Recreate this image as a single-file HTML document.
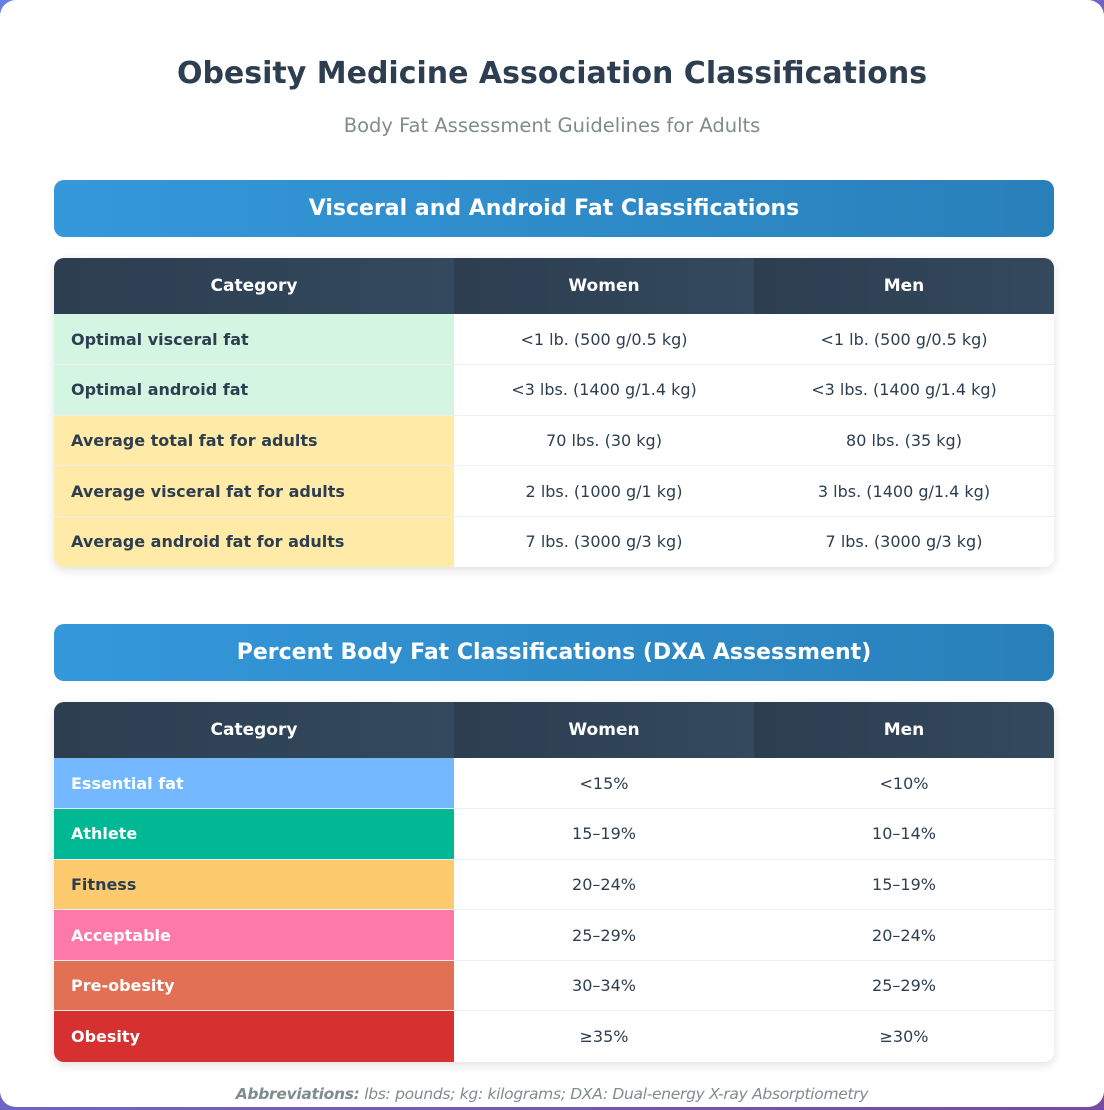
<!DOCTYPE html>
<html><head><meta charset="utf-8"><style>
*{margin:0;padding:0;box-sizing:border-box}
html,body{width:1104px;height:1110px;overflow:hidden}
body{background:linear-gradient(135deg,#667eea,#764ba2);font-family:"DejaVu Sans","Liberation Sans",sans-serif;color:#2c3e50}
.card{position:absolute;left:0;top:0;width:1104px;height:1107px;background:#fff;border-radius:16px}
h1{position:absolute;top:56px;left:0;width:1104px;text-align:center;font-size:30px;font-weight:bold;color:#2c3e50}
.sub{position:absolute;top:114px;left:0;width:1104px;text-align:center;font-size:19.5px;color:#7f8c8d}
.sec{position:absolute;left:54px;width:1000px;height:57px;border-radius:10px;background:linear-gradient(90deg,#3498db,#2980b9);color:#fff;font-weight:bold;font-size:22px;text-align:center;line-height:57px}
table{position:absolute;left:54px;width:1000px;border-collapse:collapse;border-radius:10px;overflow:hidden;box-shadow:0 3px 10px rgba(0,0,0,0.12)}
th{height:56px;color:#fff;font-size:17px;font-weight:bold;background:linear-gradient(90deg,#2c3e50,#34495e);text-align:center}
td{height:50.6px;font-size:16px;text-align:center;border-bottom:1px solid #ecf0f1;color:#2c3e50}
td:first-child{text-align:left;padding-left:17px;font-weight:bold;width:400px}
td:nth-child(2){width:300px}
tr:last-child td{border-bottom:none}
.g td:first-child{background:#d5f5e3}.y td:first-child{background:#ffeaa7}
.w td:first-child{color:#fff}
.foot{position:absolute;top:1085px;left:0;width:1104px;text-align:center;font-size:15.5px;font-style:italic;color:#7f8c8d;letter-spacing:-0.3px}
</style></head><body>
<div class="card">
<h1>Obesity Medicine Association Classifications</h1>
<div class="sub">Body Fat Assessment Guidelines for Adults</div>
<div class="sec" style="top:180px">Visceral and Android Fat Classifications</div>
<table style="top:258px">
<tr><th>Category</th><th>Women</th><th>Men</th></tr>
<tr class="g"><td>Optimal visceral fat</td><td>&lt;1 lb. (500 g/0.5 kg)</td><td>&lt;1 lb. (500 g/0.5 kg)</td></tr>
<tr class="g"><td>Optimal android fat</td><td>&lt;3 lbs. (1400 g/1.4 kg)</td><td>&lt;3 lbs. (1400 g/1.4 kg)</td></tr>
<tr class="y"><td>Average total fat for adults</td><td>70 lbs. (30 kg)</td><td>80 lbs. (35 kg)</td></tr>
<tr class="y"><td>Average visceral fat for adults</td><td>2 lbs. (1000 g/1 kg)</td><td>3 lbs. (1400 g/1.4 kg)</td></tr>
<tr class="y"><td>Average android fat for adults</td><td>7 lbs. (3000 g/3 kg)</td><td>7 lbs. (3000 g/3 kg)</td></tr>
</table>
<div class="sec" style="top:624px">Percent Body Fat Classifications (DXA Assessment)</div>
<table style="top:702px">
<tr><th>Category</th><th>Women</th><th>Men</th></tr>
<tr class="w"><td style="background:#74b9ff">Essential fat</td><td>&lt;15%</td><td>&lt;10%</td></tr>
<tr class="w"><td style="background:#00b894">Athlete</td><td>15–19%</td><td>10–14%</td></tr>
<tr><td style="background:#fdcb6e">Fitness</td><td>20–24%</td><td>15–19%</td></tr>
<tr class="w"><td style="background:#fd79a8">Acceptable</td><td>25–29%</td><td>20–24%</td></tr>
<tr class="w"><td style="background:#e17055">Pre-obesity</td><td>30–34%</td><td>25–29%</td></tr>
<tr class="w"><td style="background:#d63031">Obesity</td><td>≥35%</td><td>≥30%</td></tr>
</table>
<div class="foot"><b>Abbreviations:</b> lbs: pounds; kg: kilograms; DXA: Dual-energy X-ray Absorptiometry</div>
</div>
</body></html>
